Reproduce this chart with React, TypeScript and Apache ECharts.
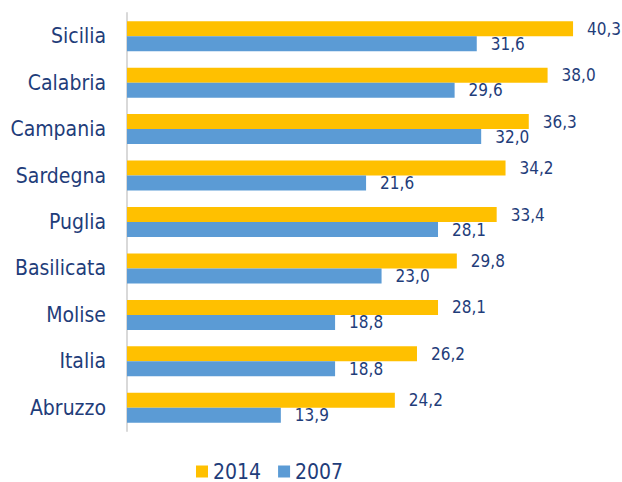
import React, { useEffect, useRef } from "react";
import * as echarts from "echarts";

const categories = ["Sicilia", "Calabria", "Campania", "Sardegna", "Puglia", "Basilicata", "Molise", "Italia", "Abruzzo"];
const values2014 = [40.3, 38.0, 36.3, 34.2, 33.4, 29.8, 28.1, 26.2, 24.2];
const values2007 = [31.6, 29.6, 32.0, 21.6, 28.1, 23.0, 18.8, 18.8, 13.9];
const seriesNames = ["2014", "2007"];

const NAVY = "#1f3d7a";
const FONT = "'DejaVu Sans Condensed', 'DejaVu Sans'";

export default function App() {
  const ref = useRef<HTMLDivElement>(null);
  useEffect(() => {
    if (!ref.current) return;
    const chart = echarts.init(ref.current, undefined, { renderer: "svg" });
    const fmt = (p: any) => Number(p.value).toFixed(1).replace(".", ",");
    const lbl = {
      show: true,
      position: "right",
      distance: 14,
      formatter: fmt,
      color: NAVY,
      fontSize: 17,
      fontFamily: FONT,
    };
    chart.setOption({
      animation: false,
      backgroundColor: "#ffffff",
      legend: {
        data: seriesNames,
        left: 196,
        top: 461,
        padding: 0,
        itemWidth: 12,
        itemHeight: 12,
        itemGap: 17,
        icon: "rect",
        textStyle: { color: NAVY, fontSize: 21, fontFamily: FONT },
      },
      grid: { left: 127, top: 13, width: 487, height: 418, containLabel: false },
      xAxis: {
        type: "value",
        min: 0,
        max: 44,
        show: false,
      },
      yAxis: {
        type: "category",
        data: categories,
        inverse: true,
        axisLine: { show: true, lineStyle: { color: "#d9d9d9", width: 2 } },
        axisTick: { show: false },
        axisLabel: { color: NAVY, fontSize: 21, fontFamily: FONT, margin: 21 },
        splitLine: { show: false },
      },
      series: [
        {
          name: seriesNames[0],
          type: "bar",
          data: values2014,
          barWidth: 15,
          barGap: "0%",
          itemStyle: { color: "#ffc000" },
          label: lbl,
        },
        {
          name: seriesNames[1],
          type: "bar",
          data: values2007,
          barWidth: 15,
          barGap: "0%",
          itemStyle: { color: "#5b9bd5" },
          label: lbl,
        },
      ],
    });
    return () => chart.dispose();
  }, []);
  return <div ref={ref} style={{ position: "fixed", left: 0, top: 0, width: 622, height: 482 }} />;
}
